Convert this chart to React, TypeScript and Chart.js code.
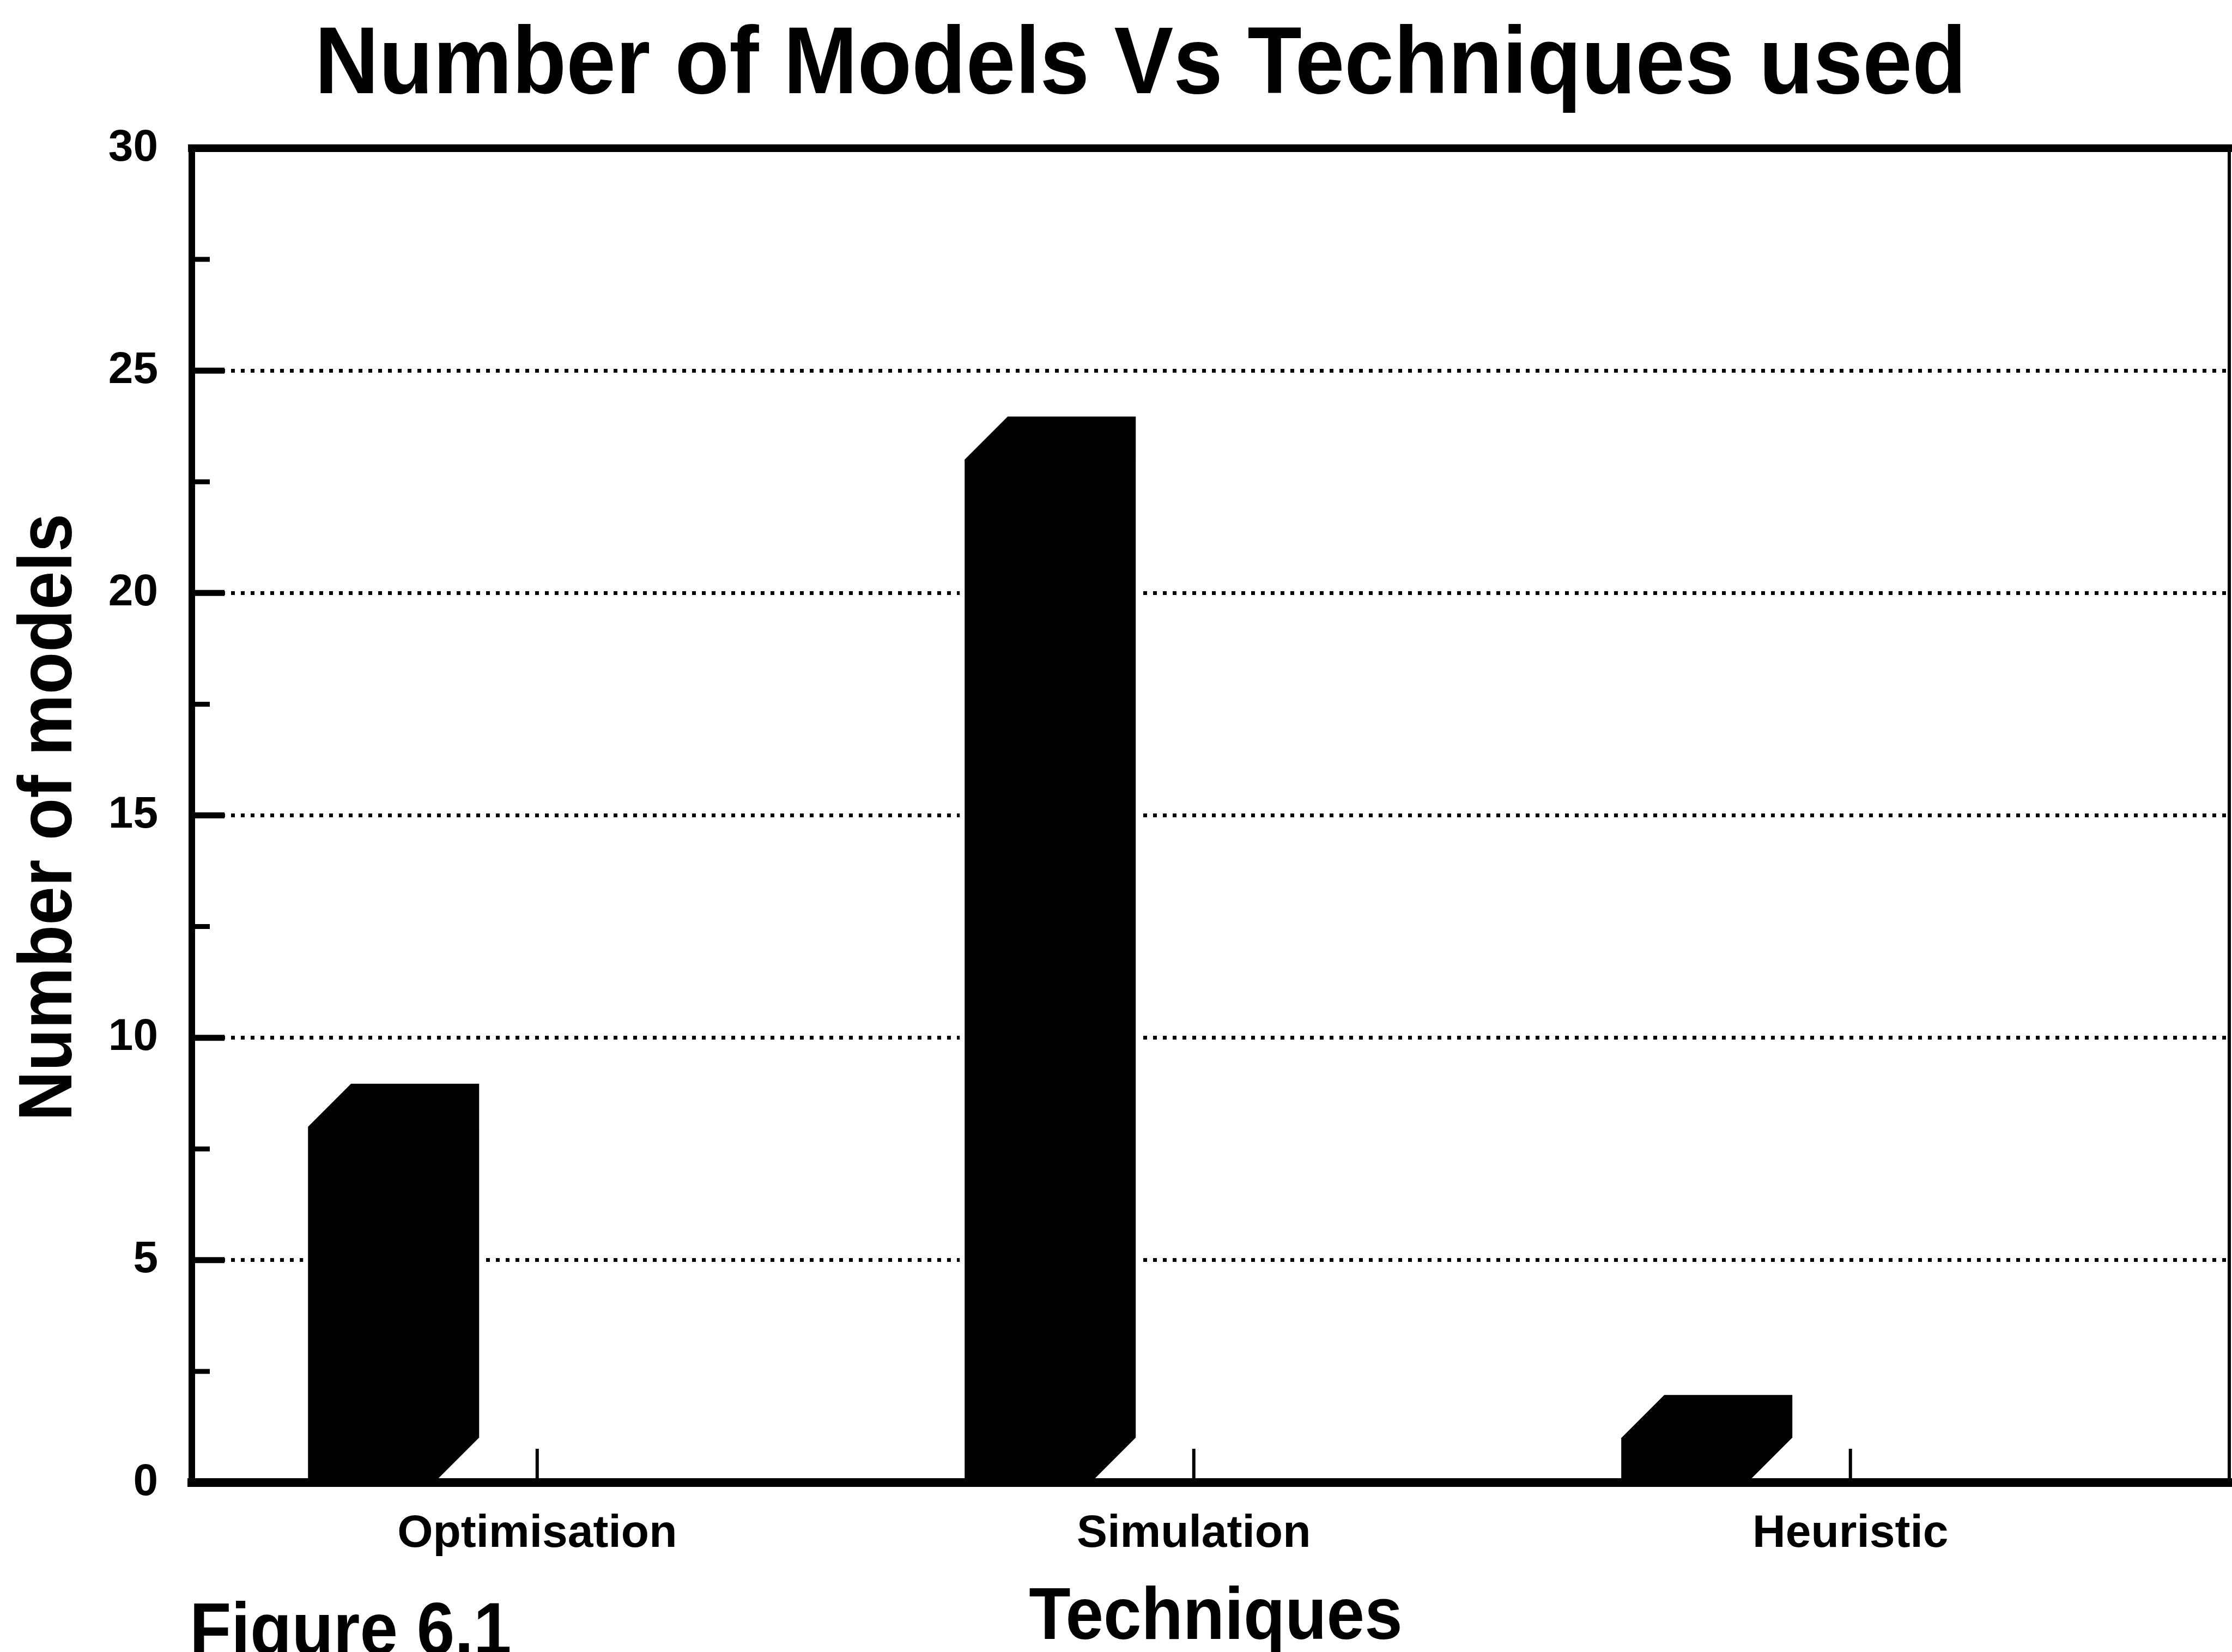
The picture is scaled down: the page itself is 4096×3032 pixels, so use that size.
import React, { useEffect, useRef } from 'react';
import { Chart, registerables } from 'chart.js';

Chart.register(...registerables);

// ---------- data ----------
const TITLE = 'Number of Models Vs Techniques used';
const X_TITLE = 'Techniques';
const Y_TITLE = 'Number of models';
const FIGURE_LABEL = 'Figure 6.1';
const CATEGORIES = ['Optimisation', 'Simulation', 'Heuristic'];
const MODEL_COUNTS = [8, 23, 1];
const Y_MIN = 0;
const Y_MAX = 30;
const Y_MINOR_STEP = 2.5;
const Y_TICK_LABELS = [0, 5, 10, 15, 20, 25, 30];

// ---------- layout / style ----------
const W = 4096;
const H = 3032;
const FONT = '"Liberation Sans", Arial, Helvetica, sans-serif';
const X_MIN = 0.474;
const X_MAX = 3.577;
const BAR_SHIFT = 0.2515;
const BAR_WIDTH = 235;
const DEPTH_X = 79;
const DEPTH_Y = 79;

function drawText(
  ctx: CanvasRenderingContext2D,
  text: string,
  x: number,
  y: number,
  size: number,
  align: CanvasTextAlign,
  stretch: number,
  rotate = 0
) {
  ctx.save();
  ctx.translate(x, y);
  if (rotate) ctx.rotate(rotate);
  ctx.scale(1, stretch);
  ctx.font = `bold ${size}px ${FONT}`;
  ctx.fillStyle = '#000';
  ctx.textAlign = align;
  ctx.textBaseline = 'alphabetic';
  ctx.fillText(text, 0, 0);
  ctx.restore();
}

const harvardPlugin = {
  id: 'harvard3d',
  afterDatasetsDraw(chart: any) {
    const ctx: CanvasRenderingContext2D = chart.ctx;
    const { left, right, top, bottom } = chart.chartArea;
    const meta = chart.getDatasetMeta(0);
    ctx.save();
    // 3D bars (front face + depth), all solid black
    meta.data.forEach((bar: any) => {
      const { x, y, base, width } = bar.getProps(['x', 'y', 'base', 'width'], true);
      const xl = x - width / 2;
      const xr = x + width / 2;
      ctx.beginPath();
      ctx.moveTo(xl, base);
      ctx.lineTo(xl, y);
      ctx.lineTo(xl + DEPTH_X, y - DEPTH_Y);
      ctx.lineTo(xr + DEPTH_X, y - DEPTH_Y);
      ctx.lineTo(xr + DEPTH_X, base - DEPTH_Y);
      ctx.lineTo(xr, base);
      ctx.closePath();
      ctx.lineJoin = 'miter';
      ctx.strokeStyle = '#fff';
      ctx.lineWidth = 18;
      ctx.stroke();
      ctx.fillStyle = '#000';
      ctx.fill();
    });

    ctx.strokeStyle = '#000';
    ctx.lineCap = 'butt';
    // y inside tick marks
    const yScale = chart.scales.y;
    yScale.ticks.forEach((t: any) => {
      if (t.value <= Y_MIN || t.value >= Y_MAX) return;
      const py = yScale.getPixelForValue(t.value);
      const major = Y_TICK_LABELS.includes(t.value);
      ctx.lineWidth = major ? 11 : 9;
      ctx.beginPath();
      ctx.moveTo(left, py);
      ctx.lineTo(left + (major ? 60 : 33), py);
      ctx.stroke();
    });
    // x inside tick marks
    const xScale = chart.scales.x;
    ctx.lineWidth = 6;
    xScale.ticks.forEach((t: any) => {
      const px = xScale.getPixelForValue(t.value);
      ctx.beginPath();
      ctx.moveTo(px, bottom);
      ctx.lineTo(px, bottom - 62);
      ctx.stroke();
    });

    // frame
    ctx.lineCap = 'square';
    ctx.lineWidth = 14;
    ctx.beginPath();
    ctx.moveTo(left, top);
    ctx.lineTo(right, top);
    ctx.stroke();
    ctx.lineWidth = 12;
    ctx.beginPath();
    ctx.moveTo(left, top);
    ctx.lineTo(left, bottom);
    ctx.stroke();
    ctx.lineWidth = 16;
    ctx.beginPath();
    ctx.moveTo(left, bottom);
    ctx.lineTo(right, bottom);
    ctx.stroke();
    ctx.lineCap = 'butt';
    ctx.lineWidth = 6;
    ctx.beginPath();
    ctx.moveTo(right, top);
    ctx.lineTo(right, bottom);
    ctx.stroke();
    ctx.restore();
  },
  afterDraw(chart: any) {
    const ctx: CanvasRenderingContext2D = chart.ctx;
    drawText(ctx, TITLE, 2093, 171, 163, 'center', 1.07);
    drawText(ctx, Y_TITLE, 131, 1500, 127, 'center', 1.09, -Math.PI / 2);
    drawText(ctx, X_TITLE, 2231, 3008, 125, 'center', 1.09);
    drawText(ctx, FIGURE_LABEL, 348, 3036, 125, 'left', 1.09);
  },
};

export default function App() {
  const ref = useRef<HTMLCanvasElement>(null);
  useEffect(() => {
    if (!ref.current) return;
    const chart = new Chart(ref.current, {
      type: 'bar',
      data: {
        datasets: [
          {
            label: Y_TITLE,
            data: CATEGORIES.map((c, i) => ({ x: i + 1, y: MODEL_COUNTS[i] })),
            xAxisID: 'xb',
            yAxisID: 'y',
            backgroundColor: '#000',
            borderWidth: 0,
            barThickness: BAR_WIDTH,
          } as any,
        ],
      },
      options: {
        responsive: false,
        maintainAspectRatio: false,
        devicePixelRatio: 1,
        animation: false,
        layout: { padding: { top: 272, right: 5, left: 0, bottom: 0 } },
        plugins: {
          legend: { display: false },
          title: { display: false },
          tooltip: { enabled: false },
        },
        scales: {
          x: {
            type: 'linear',
            position: 'bottom',
            offset: false,
            min: X_MIN,
            max: X_MAX,
            afterBuildTicks: (s: any) => {
              s.ticks = CATEGORIES.map((_, i) => ({ value: i + 1 }));
            },
            afterFit: (s: any) => {
              s.height = 311;
            },
            ticks: {
              autoSkip: false,
              maxRotation: 0,
              padding: 44,
              color: '#000',
              font: { family: FONT, size: 84, weight: 'bold' },
              callback: (v: any) => CATEGORIES[Math.round(Number(v)) - 1] ?? '',
            },
            grid: { display: false, drawTicks: false, offset: false },
            border: { display: false },
          },
          xb: {
            type: 'linear',
            display: false,
            offset: false,
            min: X_MIN + BAR_SHIFT,
            max: X_MAX + BAR_SHIFT,
            grid: { offset: false },
          },
          y: {
            type: 'linear',
            position: 'left',
            min: Y_MIN,
            max: Y_MAX,
            afterFit: (s: any) => {
              s.width = 352;
            },
            ticks: {
              stepSize: Y_MINOR_STEP,
              autoSkip: false,
              padding: 62,
              color: '#000',
              font: { family: FONT, size: 82, weight: 'bold' },
              callback: (v: any) => (Y_TICK_LABELS.includes(Number(v)) ? String(v) : ''),
            },
            grid: {
              drawTicks: false,
              lineWidth: 7,
              color: (c: any) =>
                c.tick && Y_TICK_LABELS.includes(c.tick.value) && c.tick.value > Y_MIN && c.tick.value < Y_MAX
                  ? '#000'
                  : 'rgba(0,0,0,0)',
            },
            border: { display: false, dash: [7, 11] },
          },
        },
      } as any,
      plugins: [harvardPlugin],
    });
    return () => chart.destroy();
  }, []);

  return (
    <div style={{ position: 'fixed', left: 0, top: 0, width: W, height: H, background: '#fff' }}>
      <canvas ref={ref} width={W} height={H} style={{ display: 'block', width: W, height: H }} />
    </div>
  );
}
